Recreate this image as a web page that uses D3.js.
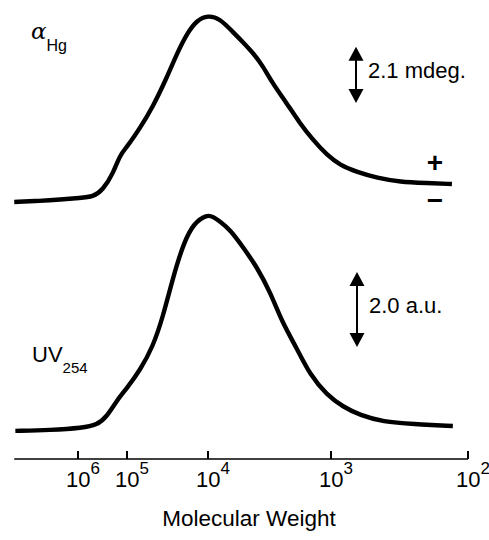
<!DOCTYPE html>
<html>
<head>
<meta charset="utf-8">
<script src="https://cdn.jsdelivr.net/npm/d3@7"></script>
<style>
  html, body { margin: 0; padding: 0; background: #fff; }
  svg { display: block; font-family: "Liberation Sans", Arial, Helvetica, sans-serif; }
</style>
</head>
<body>
<div id="chart"></div>
<script>
// Molecular weight calibration ticks (axis runs from high MW on the left to low MW on the right)
const mwTicks = [1e6, 1e5, 1e4, 1e3, 1e2];
const tickExponents = ["6", "5", "4", "3", "2"];
const mwAxisEnds = [2.0e7, 1e2];

// CD signal (alpha Hg, mdeg)
const cdMW = [2.0e7, 6.0e6, 2.3e6, 9.1e5, 4.9e5, 3.1e5, 1.9e5, 1.4e5, 1.0e5, 6.9e4, 4.8e4, 3.2e4, 2.4e4, 1.8e4, 1.37e4,
              1.0e4, 8.0e3, 6.3e3, 5.2e3, 4.3e3, 3.6e3, 3.0e3, 2.3e3, 1.8e3, 1.4e3, 1.08e3, 860, 646, 461, 313, 199, 131];
const cdSignal = [-0.71, -0.67, -0.62, -0.56, -0.52, -0.26, 0.37, 1.05, 1.35, 2.06, 2.85, 3.97, 4.87, 5.62, 6.10,
                  6.28, 6.16, 5.66, 5.28, 4.87, 4.40, 3.75, 3.00, 2.25, 1.61, 1.05, 0.67, 0.41, 0.19, 0.04, 0.00, -0.04];

// UV absorbance at 254 nm (a.u.)
const uvMW = [1.9e7, 3.7e6, 7.9e5, 4.1e5, 2.6e5, 1.6e5, 1.0e5, 6.9e4, 4.8e4, 3.6e4, 2.7e4, 2.0e4, 1.5e4, 1.03e4,
              9.1e3, 8.0e3, 6.6e3, 5.2e3, 4.0e3, 3.1e3, 2.5e3, 1.9e3, 1.48e3, 1.08e3, 817, 614, 417, 252, 129];
const uvSignal = [0.03, 0.05, 0.11, 0.19, 0.40, 0.85, 1.17, 1.65, 2.27, 3.07, 4.13, 5.04, 5.57, 5.80,
                  5.74, 5.62, 5.39, 4.93, 4.40, 3.71, 2.93, 2.24, 1.52, 0.99, 0.67, 0.45, 0.27, 0.21, 0.16];

// Scale bars
const cdBar = { from: 3.0, size: 2.1, label: "2.1 mdeg." };
const uvBar = { from: 2.27, size: 2.0, label: "2.0 a.u." };

const width = 489;
const height = 540;

const svg = d3.select("#chart")
    .append("svg")
    .attr("width", width)
    .attr("height", height);

// Piecewise log scale: the column calibration is not evenly spaced per decade
const x = d3.scaleLog()
    .domain(mwTicks)
    .range([78, 127, 208, 331, 468]);

const yCD = d3.scaleLinear().domain([0, 1]).range([183, 156.3]);
const yUV = d3.scaleLinear().domain([0, 1]).range([432, 394.5]);

const curve = d3.curveBasis;

const cdLine = d3.line().x(d => x(d[0])).y(d => yCD(d[1])).curve(curve);
const uvLine = d3.line().x(d => x(d[0])).y(d => yUV(d[1])).curve(curve);

svg.append("path")
    .datum(d3.zip(cdMW, cdSignal))
    .attr("d", cdLine)
    .attr("fill", "none")
    .attr("stroke", "#000")
    .attr("stroke-width", 4.4)
    .attr("stroke-linejoin", "round");

svg.append("path")
    .datum(d3.zip(uvMW, uvSignal))
    .attr("d", uvLine)
    .attr("fill", "none")
    .attr("stroke", "#000")
    .attr("stroke-width", 4.4)
    .attr("stroke-linejoin", "round");

// x axis: ticks pointing up, labels "10^n" below
const axisY = 459;
const axis = svg.append("g").attr("transform", `translate(0,${axisY})`);

axis.append("line")
    .attr("x1", x(mwAxisEnds[0]))
    .attr("x2", x(mwAxisEnds[1]))
    .attr("stroke", "#000")
    .attr("stroke-width", 1.5);

axis.selectAll(".tick")
    .data(mwTicks)
    .enter()
    .append("line")
    .attr("class", "tick")
    .attr("x1", d => x(d))
    .attr("x2", d => x(d))
    .attr("y1", 0)
    .attr("y2", -8)
    .attr("stroke", "#000")
    .attr("stroke-width", 2);

const tickLabels = axis.selectAll(".tickLabel")
    .data(mwTicks)
    .enter()
    .append("text")
    .attr("class", "tickLabel")
    .attr("x", d => x(d) - 12)
    .attr("y", 28)
    .style("font-size", "22px");

tickLabels.append("tspan").text("10");
tickLabels.append("tspan")
    .attr("dy", -13)
    .style("font-size", "17px")
    .text((d, i) => tickExponents[i]);

svg.append("text")
    .attr("x", 249)
    .attr("y", 526)
    .attr("text-anchor", "middle")
    .style("font-size", "22.5px")
    .text("Molecular Weight");

// trace labels
const cdLabel = svg.append("text").attr("x", 31).attr("y", 39);
cdLabel.append("tspan")
    .style("font-size", "23px")
    .style("font-style", "italic")
    .style("font-family", "'DejaVu Serif', serif")
    .text("α");
cdLabel.append("tspan")
    .attr("dy", 12)
    .style("font-size", "16px")
    .text("Hg");

const uvLabel = svg.append("text").attr("x", 32).attr("y", 362);
uvLabel.append("tspan").style("font-size", "22px").text("UV");
uvLabel.append("tspan").attr("dy", 11).style("font-size", "15px").text("254");

// double-headed scale arrows
function scaleArrow(cx, y0, y1, label) {
    const g = svg.append("g");
    const head = 14, half = 7.5;
    g.append("line")
        .attr("x1", cx).attr("x2", cx)
        .attr("y1", y1 + head - 1).attr("y2", y0 - head + 1)
        .attr("stroke", "#000")
        .attr("stroke-width", 2);
    g.append("path")
        .attr("d", `M${cx},${y1}L${cx - half},${y1 + head}L${cx + half},${y1 + head}Z`)
        .attr("fill", "#000");
    g.append("path")
        .attr("d", `M${cx},${y0}L${cx - half},${y0 - head}L${cx + half},${y0 - head}Z`)
        .attr("fill", "#000");
    g.append("text")
        .attr("x", cx + 12)
        .attr("y", (y0 + y1) / 2 + 3.5)
        .style("font-size", "22px")
        .text(label);
}

scaleArrow(356, yCD(cdBar.from), yCD(cdBar.from + cdBar.size), cdBar.label);
scaleArrow(357, yUV(uvBar.from), yUV(uvBar.from + uvBar.size), uvBar.label);

// sign markers for the CD trace
svg.append("text")
    .attr("x", 435).attr("y", 172)
    .attr("text-anchor", "middle")
    .style("font-size", "28px")
    .style("font-weight", "bold")
    .text("+");
svg.append("text")
    .attr("x", 435).attr("y", 210)
    .attr("text-anchor", "middle")
    .style("font-size", "28px")
    .style("font-weight", "bold")
    .text("−");
</script>
</body>
</html>
